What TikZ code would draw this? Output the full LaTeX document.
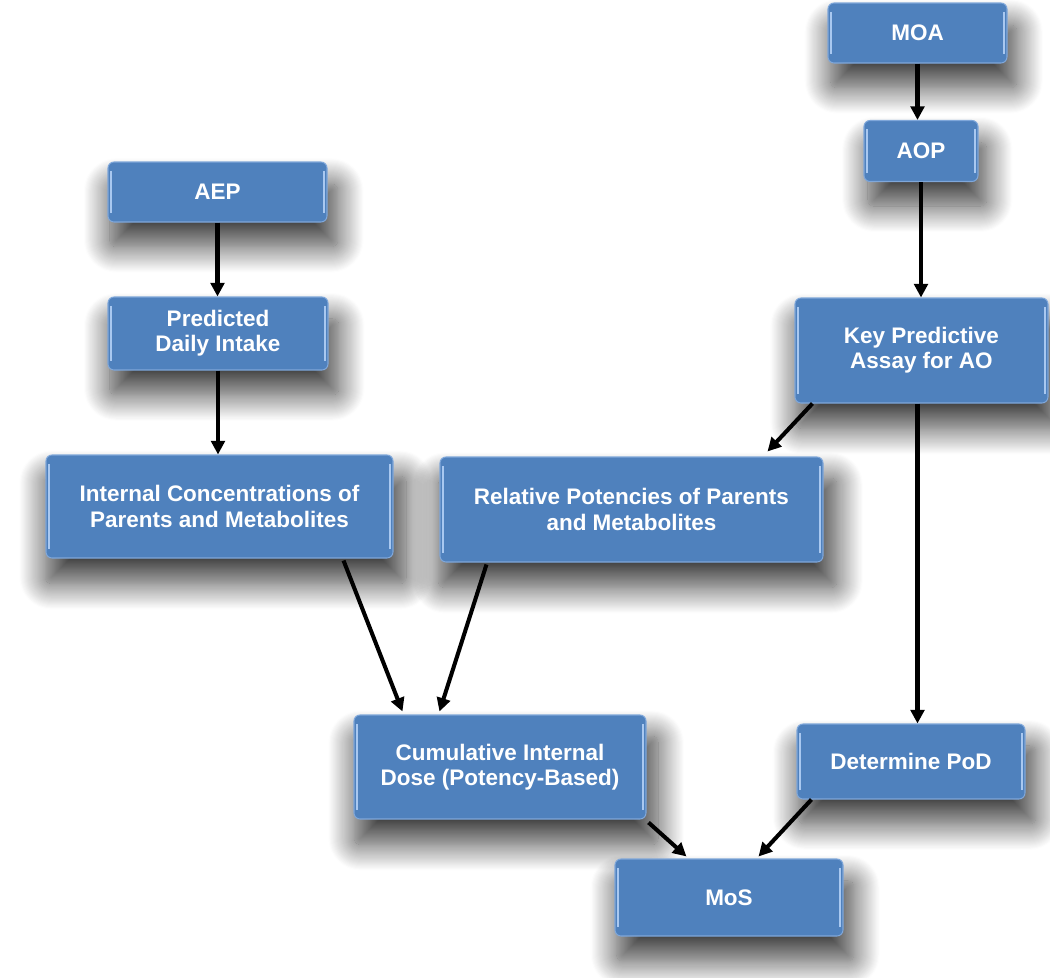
\documentclass[tikz,border=0pt]{standalone}
\usepackage{fontspec}
\setmainfont{Liberation Sans}
\usepackage{xcolor}
\usepackage{tikz}
\usetikzlibrary{arrows.meta, positioning, calc, shadows.blur}
\definecolor{flowblue}{HTML}{4F81BD}
\definecolor{flowedge}{HTML}{7FA7DA}
\definecolor{flowshine}{HTML}{A9C8F0}
\definecolor{flowink}{HTML}{000000}

\tikzset{
  stepbox/.style={draw=flowedge, line width=0.6pt, fill=flowblue, rounded corners=0.12cm,
    text=white, font=\fontsize{12.8}{14.4}\selectfont\bfseries, align=center,
    inner sep=0pt,
    path picture={
      \draw[flowshine, line width=1.1pt]
        ([xshift=1.5pt, yshift=-5pt]path picture bounding box.north west) --
        ([xshift=1.5pt, yshift=5pt]path picture bounding box.south west);
      \draw[flowshine, line width=1.1pt]
        ([xshift=-1.5pt, yshift=-5pt]path picture bounding box.north east) --
        ([xshift=-1.5pt, yshift=5pt]path picture bounding box.south east);
    },
    blur shadow={shadow xshift=0.12cm, shadow yshift=-0.45cm, shadow scale=1.04,
      shadow blur radius=0.5cm, shadow blur steps=25, shadow opacity=75}},
  flow/.style={draw=flowink, line width=2.3pt, -{Triangle[length=0.27cm, width=0.27cm]}}
}

\begin{document}
\begin{tikzpicture}
  \useasboundingbox (0,0) rectangle (21,-19.56);
  \node[stepbox, minimum width=3.58cm, minimum height=1.2cm] (moa) at (18.35,-0.66) {MOA};
  \node[stepbox, minimum width=2.28cm, minimum height=1.22cm] (aop) at (18.42,-3.02) {AOP};
  \node[stepbox, minimum width=4.38cm, minimum height=1.2cm] (aep) at (4.35,-3.84) {AEP};
  \node[stepbox, minimum width=4.4cm, minimum height=1.46cm] (pdi) at (4.36,-6.67) {Predicted\\Daily Intake};
  \node[stepbox, minimum width=5.06cm, minimum height=2.1cm] (kpa) at (18.43,-7.01) {Key Predictive\\Assay for AO};
  \node[stepbox, minimum width=6.94cm, minimum height=2.06cm] (inc) at (4.39,-10.13) {Internal Concentrations of\\Parents and Metabolites};
  \node[stepbox, minimum width=7.66cm, minimum height=2.1cm] (rpm) at (12.63,-10.19) {Relative Potencies of Parents\\and Metabolites};
  \node[stepbox, minimum width=5.84cm, minimum height=2.08cm] (cid) at (10.0,-15.34) {Cumulative Internal\\Dose (Potency-Based)};
  \node[stepbox, minimum width=4.56cm, minimum height=1.5cm] (pod) at (18.22,-15.23) {Determine PoD};
  \node[stepbox, minimum width=4.56cm, minimum height=1.54cm] (mos) at (14.58,-17.95) {MoS};

  \draw[flow] (moa.south) -- (moa.south |- aop.north);
  \draw[flow] (aep.south) -- (aep.south |- pdi.north);
  \draw[flow] (pdi.south) -- (pdi.south |- inc.north);
  \draw[flow] (aop.south) -- (aop.south |- kpa.north);
  \draw[flow] ([xshift=0.36cm]kpa.south west) -- ([xshift=-1.12cm, yshift=0.1cm]rpm.north east);
  \draw[flow] ([xshift=-0.08cm]kpa.south) -- ([xshift=-0.08cm]kpa.south |- pod.north);
  \draw[flow] ([xshift=-1.0cm, yshift=-0.04cm]inc.south east) -- ([xshift=0.98cm, yshift=0.06cm]cid.north west);
  \draw[flow] ([xshift=0.94cm, yshift=-0.04cm]rpm.south west) -- ([xshift=1.72cm, yshift=0.06cm]cid.north west);
  \draw[flow] ([xshift=0.04cm, yshift=-0.06cm]cid.south east) -- ([xshift=1.44cm, yshift=0.04cm]mos.north west);
  \draw[flow] ([xshift=0.3cm]pod.south west) -- ([xshift=-1.7cm, yshift=0.04cm]mos.north east);
\end{tikzpicture}
\end{document}
